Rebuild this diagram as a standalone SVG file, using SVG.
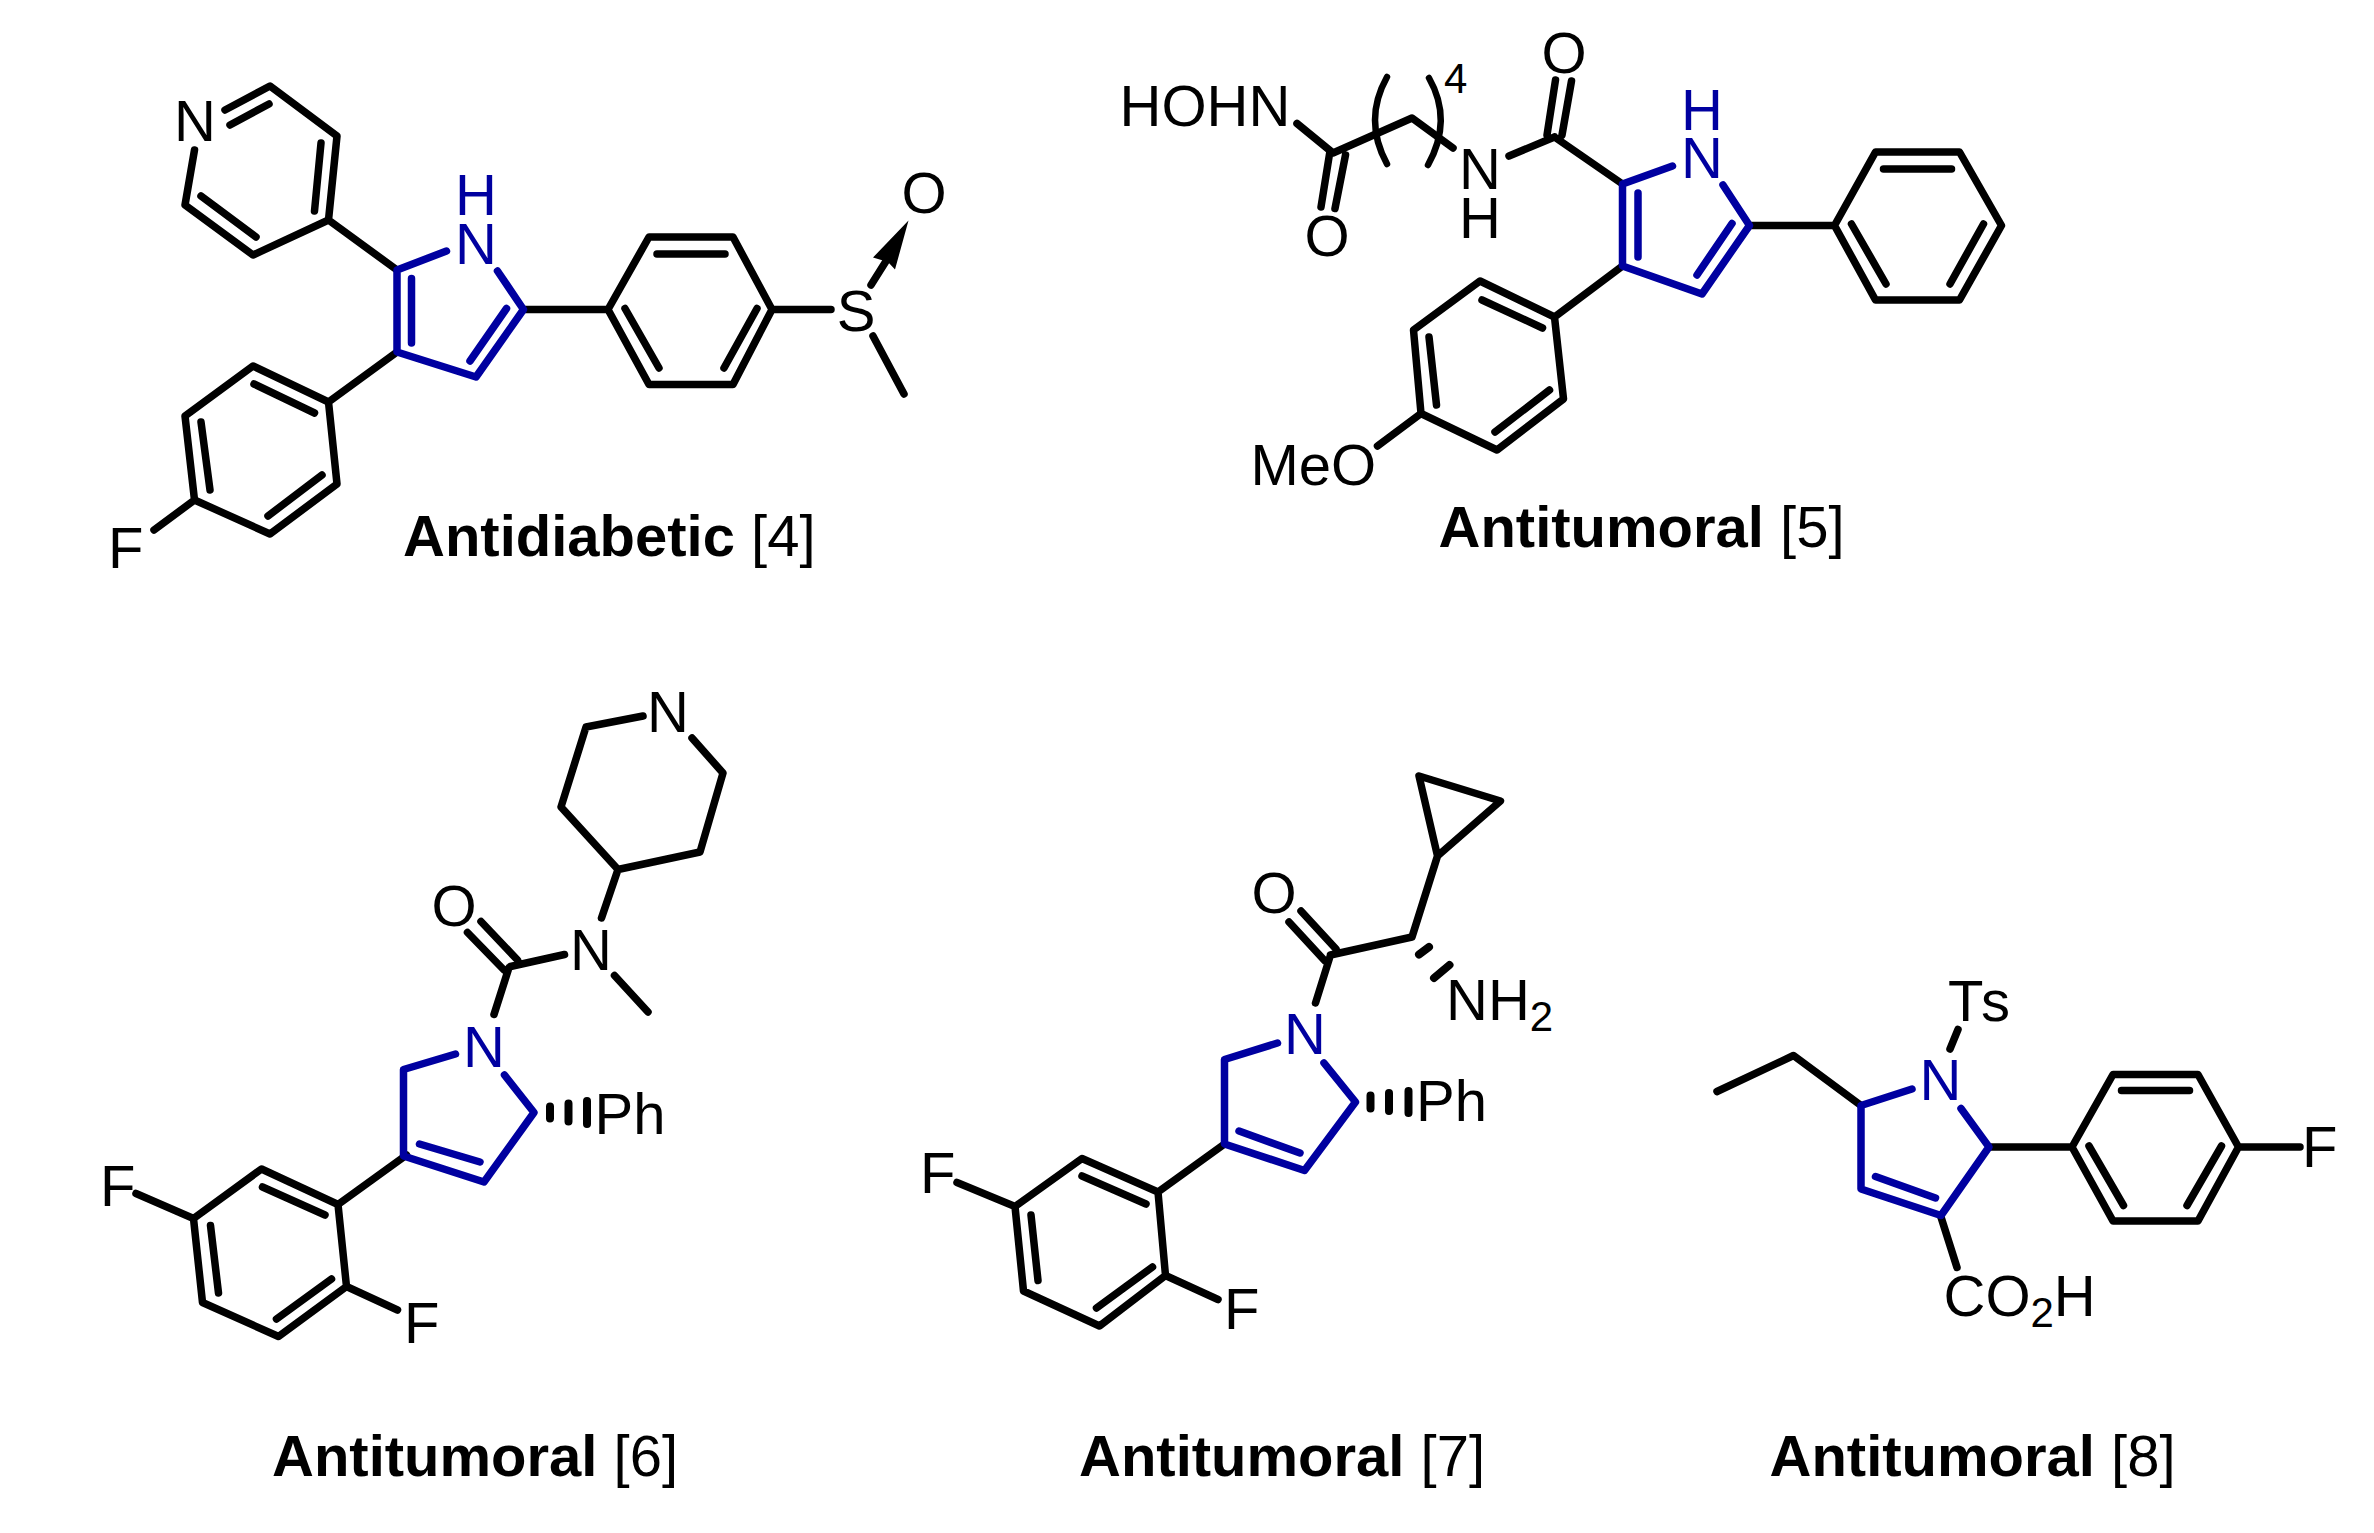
<svg xmlns="http://www.w3.org/2000/svg" width="2374" height="1533" viewBox="0 0 2374 1533">
<style>
.k{fill:none;stroke:#000;stroke-width:7.500;stroke-linecap:round;stroke-linejoin:round}
.b{fill:none;stroke:#0000a0;stroke-width:7.500;stroke-linecap:round;stroke-linejoin:round}
.h{fill:none;stroke:#000;stroke-width:8;stroke-linecap:round}
text{font-family:"Liberation Sans",Arial,sans-serif;font-size:58px;fill:#000}
.m{text-anchor:middle}
.n{fill:#0000a0}
.t{font-weight:bold}
.c{font-weight:normal}
.s{font-size:42px}
</style>
<rect width="2374" height="1533" fill="#fff"/>

<g id="antidiabetic-4">
<path class="k" d="M225 110L270 86L337 136L328.500 220L253 255L185 205L194.500 150M230 125L269 104M321 143L314.500 211M201 196L256 237M328.500 220L397 270M397 352L328.500 402L253 366L185 416L194.500 500L270 534L337 484L328.500 402M254 384L314.500 413M201 422L210 490M268 516L322 475M194.500 500L154 530M523.500 309.500H608M608 309.500L649 237H733L772 309.500L733 384.500H649L608 309.500M657 254H725M625 308.500L659 368M757 308.500L724 368M772 309.500H831M871 285L888 258M873 336L904 394"/>
<path d="M908.500 220.500L873 257.500L888 262L895 269.500Z" fill="#000"/>
<path class="b" d="M446.500 251L397 270V352L476 377L523.500 309.500L497.500 271M411.500 278.500V343M470 361L506.500 308.500"/>
<text class="m n"><tspan x="476" y="215">H</tspan><tspan x="476" y="264">N</tspan></text>
<text class="m" x="195" y="141">N</text>
<text x="108" y="568">F</text>
<text class="m" x="856" y="331">S</text>
<text class="m" x="924" y="213">O</text>
<text class="t" x="403" y="556">Antidiabetic <tspan class="c">[4]</tspan></text>
</g>

<g id="antitumoral-5">
<path class="k" d="M1297 123.500L1333 153L1412 118L1453 148M1321 207L1330 151M1335 208.500L1345.500 155M1509 156L1554.500 137M1547 135L1555.500 80M1562 135L1571.500 81M1554.500 137L1622.500 184M1749.500 225.500H1834.500L1875.500 152H1959.500L2001.500 225.500L1959.500 300H1875.500L1834.500 225.500M1883.500 169H1951.500M1851.500 224L1886 284M1983.500 224L1950 284M1622.500 266L1554.500 317L1480 281L1413.500 330L1421 413.500L1497 450L1563.500 399L1554.500 317M1482 300L1542.500 328M1429 337L1436.500 405M1495 432L1549.500 390M1421 413.500L1377.500 446"/>
<path class="k" d="M1387 77Q1363 120 1387 164M1429 78Q1453 120 1428 165" style="stroke-width:6.500"/>
<path class="b" d="M1672.500 166L1622.500 184V266L1702 294L1749.500 225.500L1723 185M1638 193V257M1697 275L1732 223.500"/>
<text class="m n"><tspan x="1702" y="130">H</tspan><tspan x="1702" y="178">N</tspan></text>
<text x="1119.500" y="126">HOHN</text>
<text class="m" x="1327" y="256">O</text>
<text class="m" x="1564" y="73">O</text>
<text class="m"><tspan x="1480" y="189">N</tspan><tspan x="1480" y="238">H</tspan></text>
<text x="1444" y="93" style="font-size:42px">4</text>
<text x="1250.500" y="485">MeO</text>
<text class="t" x="1438.500" y="547">Antitumoral <tspan class="c">[5]</tspan></text>
</g>

<g id="antitumoral-6" transform="translate(0 1.500)">
<path class="k" d="M643 714.500L586 725.500L561 805.500L618 868L700 850.500L723 771.500L692 736.500M618 868L601.500 916.500M614.500 974L648 1010.500M510.500 965L564.500 953M467.500 931L504 968.500M481 920L517.500 958.500M509 966L494 1013M406.500 1153.500L338 1203L261.500 1167.500L193.500 1217L202.500 1301L278.500 1335L346.500 1285L338 1203M262.500 1185.500L325 1213.500M210.500 1224L218.500 1291.500M276.500 1317.500L331.500 1277.500M193.500 1217L136 1192M346.500 1285L397.500 1308.500"/>
<path class="b" d="M455.500 1052.500L403.500 1068V1154.500L484 1180.500L534 1111L504.500 1073.500M419.500 1142.500L480 1160.500"/>
<path class="h" d="M550 1105V1117M568.500 1102V1120M587 1099.500V1122.500"/>
<text class="m" x="668" y="730">N</text>
<text class="m" x="591" y="968">N</text>
<text class="m" x="454" y="924">O</text>
<text class="m n" x="484" y="1065.500">N</text>
<text x="594.500" y="1132.500">Ph</text>
<text x="100" y="1204">F</text>
<text x="404" y="1341">F</text>
<text class="t" x="272" y="1474.500">Antitumoral <tspan class="c">[6]</tspan></text>
</g>

<g id="antitumoral-7" transform="translate(0 2)">
<path class="k" d="M1437.500 854L1419 774L1500.500 799ZM1437.500 854L1412 935L1330.500 953M1289 920L1325 959M1301 909L1336 947M1330.500 953L1315.500 1001M1224.500 1142L1158 1190L1082 1156.500L1015 1204.500L1023.500 1289L1099.500 1324L1165.500 1273.500L1158 1190M1082 1174L1146 1202M1031 1213L1038 1278.500M1096.500 1306L1152.500 1265M1015 1204.500L957 1180.500M1165.500 1273.500L1218 1297.500"/>
<path class="b" d="M1277.500 1041L1224.500 1057.500V1142L1304.500 1168.500L1355.500 1100L1324 1061M1239 1129L1300 1151"/>
<path class="h" d="M1370.500 1093.500V1106.500M1389 1091V1109M1408.500 1089V1111M1419 952.500L1429 945M1434 976L1449.500 963"/>
<text class="m" x="1274" y="911">O</text>
<text class="m n" x="1305" y="1052">N</text>
<text x="1416" y="1119">Ph</text>
<text x="1446" y="1018">NH<tspan class="s" dy="11">2</tspan></text>
<text x="920" y="1191">F</text>
<text x="1224" y="1327">F</text>
<text class="t" x="1079" y="1474">Antitumoral <tspan class="c">[7]</tspan></text>
</g>

<g id="antitumoral-8" transform="translate(0 1.500)">
<path class="k" d="M1958 1028L1950 1047.500M1717 1090L1793.500 1054L1861 1104M1940.500 1214L1957 1266M1989 1145.500H2072L2113 1073H2198L2238.500 1145.500L2198 1219.500H2113L2072 1145.500M2121.500 1089H2189.500M2089 1144.500L2123.500 1204M2221.500 1144.500L2187 1204M2238.500 1145.500H2300"/>
<path class="b" d="M1912 1087.500L1861 1104V1187.500L1941 1214L1989 1145.500L1961 1107M1875.500 1175L1935.500 1196.500"/>
<text class="m n" x="1940.500" y="1098">N</text>
<text x="1948" y="1019">T<tspan dx="4">s</tspan></text>
<text x="1943.500" y="1314">CO<tspan class="s" dy="11">2</tspan><tspan dy="-11">H</tspan></text>
<text x="2302" y="1165">F</text>
<text class="t" x="1769.500" y="1474.500">Antitumoral <tspan class="c">[8]</tspan></text>
</g>
</svg>
